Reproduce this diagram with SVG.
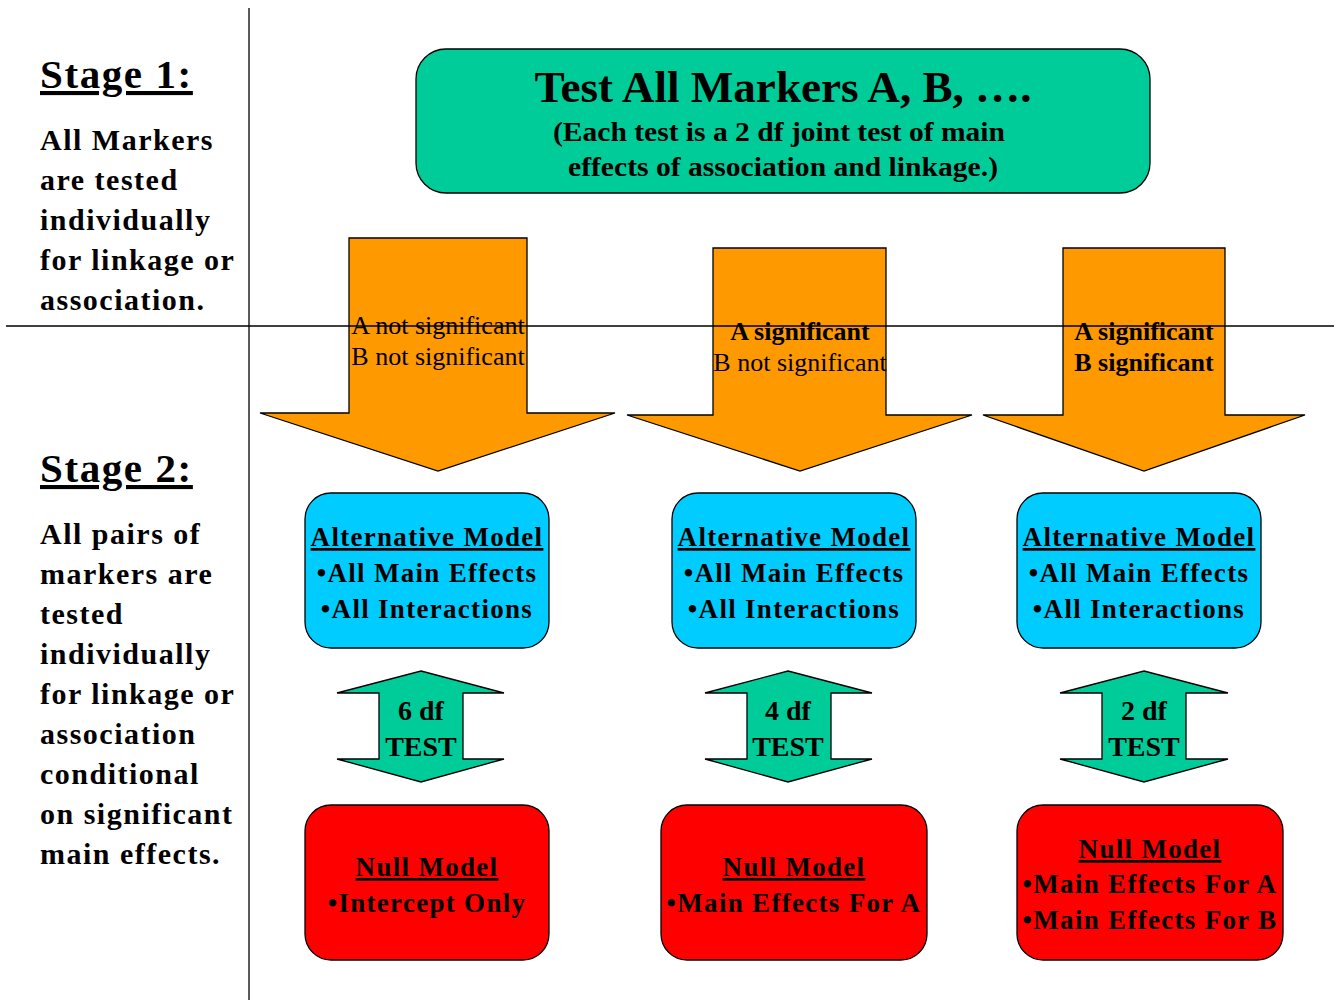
<svg xmlns="http://www.w3.org/2000/svg" width="1334" height="1000" viewBox="0 0 1334 1000">
<style>
text{font-family:"Liberation Serif","Times New Roman",serif;fill:#000}
.b{font-weight:bold}
.stage{font-size:41px;font-weight:bold;text-decoration:underline;letter-spacing:1.6px}
.side{font-size:30px;font-weight:bold;letter-spacing:1.5px}
.arr{font-size:26px;text-anchor:middle}
.box{font-size:27px;font-weight:bold;text-anchor:middle;letter-spacing:1.3px}
.u{text-decoration:underline}
.dt{font-size:28px;font-weight:bold;text-anchor:middle}
.shape{stroke:#000;stroke-width:1.3}
</style>
<rect width="1334" height="1000" fill="#fff"/>
<g id="dividers" stroke="#000" stroke-width="1.3">
<line x1="249" y1="8" x2="249" y2="1000"/>
</g>
<g id="stage1">
<text class="stage" x="40" y="88">Stage 1:</text>
<text class="side" x="40" y="150">All Markers</text>
<text class="side" x="40" y="190">are tested</text>
<text class="side" x="40" y="230">individually</text>
<text class="side" x="40" y="270">for linkage or</text>
<text class="side" x="40" y="310">association.</text>
</g>
<g id="stage2">
<text class="stage" x="40" y="482">Stage 2:</text>
<text class="side" x="40" y="544">All pairs of</text>
<text class="side" x="40" y="584">markers are</text>
<text class="side" x="40" y="624">tested</text>
<text class="side" x="40" y="664">individually</text>
<text class="side" x="40" y="704">for linkage or</text>
<text class="side" x="40" y="744">association</text>
<text class="side" x="40" y="784">conditional</text>
<text class="side" x="40" y="824">on significant</text>
<text class="side" x="40" y="864">main effects.</text>
</g>
<g id="top">
<rect class="shape" x="416" y="49" width="734" height="144" rx="30" fill="#00CC99"/>
<text class="b" x="783" y="102" font-size="44" text-anchor="middle" textLength="497" lengthAdjust="spacingAndGlyphs">Test All Markers A, B, ….</text>
<text class="b" x="779" y="141" font-size="28" text-anchor="middle" textLength="452" lengthAdjust="spacingAndGlyphs">(Each test is a 2 df joint test of main</text>
<text class="b" x="783" y="176" font-size="28" text-anchor="middle" textLength="430" lengthAdjust="spacingAndGlyphs">effects of association and linkage.)</text>
</g>
<g id="connectors">
<g id="arrow1">
<polygon class="shape" fill="#FF9900" points="349,238 527,238 527,413 615,413 438,471 260,413 349,413"/>
</g>
<g id="arrow2">
<polygon class="shape" fill="#FF9900" points="713,248 886,248 886,415 972,415 800,471 627,415 713,415"/>
</g>
<g id="arrow3">
<polygon class="shape" fill="#FF9900" points="1063,248 1225,248 1225,415 1305,415 1144,471 983,415 1063,415"/>
</g>
<g id="dbl1"><polygon class="shape" fill="#00CC99" points="421,671 504,693 463,693 463,759 504,759 421,782 337,759 379,759 379,693 337,693"/></g>
<g id="dbl2"><polygon class="shape" fill="#00CC99" points="788,671 872,693 831,693 831,759 872,759 788,782 705,759 747,759 747,693 705,693"/></g>
<g id="dbl3"><polygon class="shape" fill="#00CC99" points="1144,671 1228,693 1186,693 1186,759 1228,759 1144,782 1060,759 1102,759 1102,693 1060,693"/></g>
</g>
<line x1="6" y1="326" x2="1334" y2="326" stroke="#000" stroke-width="1.3"/>
<g id="arrow-labels">
<text class="arr" x="438" y="334">A not significant</text>
<text class="arr" x="438" y="365">B not significant</text>
<text class="arr b" x="800" y="340">A significant</text>
<text class="arr" x="800" y="371">B not significant</text>
<text class="arr b" x="1144" y="340">A significant</text>
<text class="arr b" x="1144" y="371">B significant</text>
</g>
<g id="test1"><text class="dt" x="421" y="720">6 df</text><text class="dt" x="421" y="756">TEST</text></g>
<g id="test2"><text class="dt" x="788" y="720">4 df</text><text class="dt" x="788" y="756">TEST</text></g>
<g id="test3"><text class="dt" x="1144" y="720">2 df</text><text class="dt" x="1144" y="756">TEST</text></g>
<g id="alt1">
<rect class="shape" x="305" y="493" width="244" height="155" rx="26" fill="#00CCFF"/>
<text class="box u" x="427" y="546">Alternative Model</text>
<text class="box" x="427" y="582">•All Main Effects</text>
<text class="box" x="427" y="618">•All Interactions</text>
</g>
<g id="alt2">
<rect class="shape" x="672" y="493" width="244" height="155" rx="26" fill="#00CCFF"/>
<text class="box u" x="794" y="546">Alternative Model</text>
<text class="box" x="794" y="582">•All Main Effects</text>
<text class="box" x="794" y="618">•All Interactions</text>
</g>
<g id="alt3">
<rect class="shape" x="1017" y="493" width="244" height="155" rx="26" fill="#00CCFF"/>
<text class="box u" x="1139" y="546">Alternative Model</text>
<text class="box" x="1139" y="582">•All Main Effects</text>
<text class="box" x="1139" y="618">•All Interactions</text>
</g>
<g id="null1">
<rect class="shape" x="305" y="805" width="244" height="155" rx="26" fill="#FF0000"/>
<text class="box u" x="427" y="876">Null Model</text>
<text class="box" x="427" y="912">•Intercept Only</text>
</g>
<g id="null2">
<rect class="shape" x="661" y="805" width="266" height="155" rx="26" fill="#FF0000"/>
<text class="box u" x="794" y="876">Null Model</text>
<text class="box" x="794" y="912">•Main Effects For A</text>
</g>
<g id="null3">
<rect class="shape" x="1017" y="805" width="266" height="155" rx="26" fill="#FF0000"/>
<text class="box u" x="1150" y="858">Null Model</text>
<text class="box" x="1150" y="893">•Main Effects For A</text>
<text class="box" x="1150" y="929">•Main Effects For B</text>
</g>
</svg>
